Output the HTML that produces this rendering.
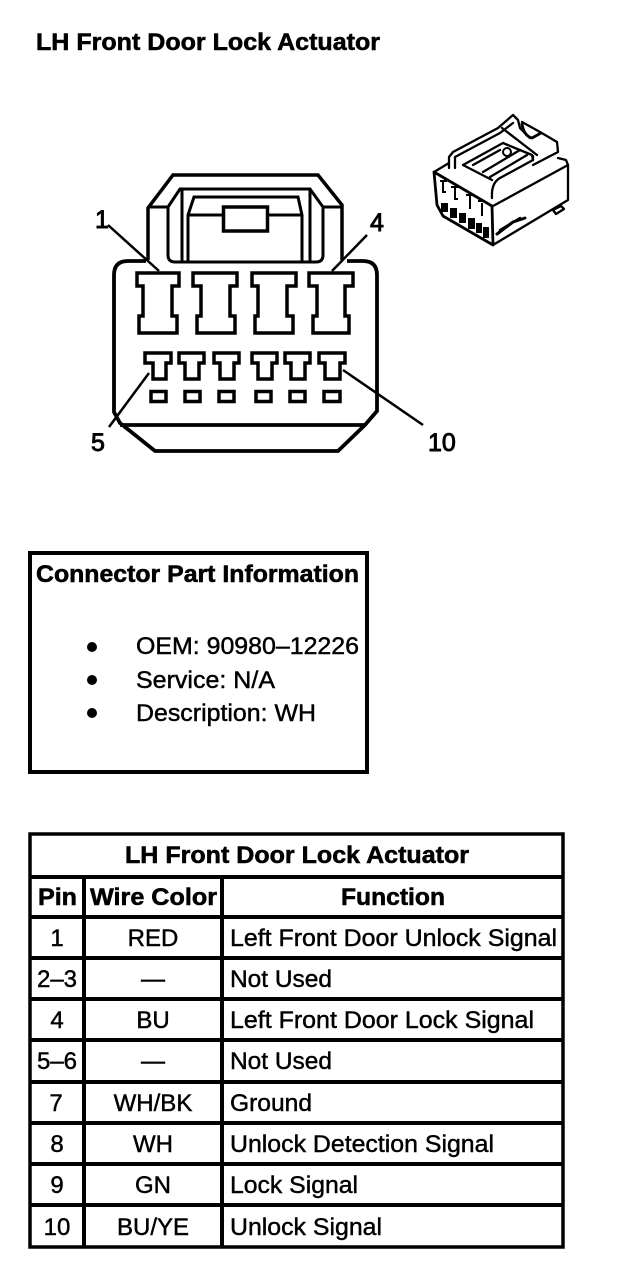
<!DOCTYPE html>
<html><head><meta charset="utf-8"><style>
html,body{margin:0;padding:0;background:#fff;width:624px;height:1278px;overflow:hidden}
svg{display:block}
text{font-family:"Liberation Sans",sans-serif;font-size:24px;fill:#000;stroke:#000;stroke-width:.45px}
.b{font-weight:bold;stroke-width:.55px}
.m{text-anchor:middle}
.l{font-size:25px;stroke-width:.9px}
</style></head><body>
<svg width="624" height="1278" viewBox="0 0 624 1278" xmlns="http://www.w3.org/2000/svg">
<rect width="624" height="1278" fill="#fff"/>
<text class="b" x="36" y="50" textLength="344" lengthAdjust="spacingAndGlyphs">LH Front Door Lock Actuator</text>

<g fill="none" stroke="#000" stroke-width="3.500">
<path d="M148 260V208L173 175H318L342 205V260"/>
<path d="M148 207H168V255Q168 262 175 262H316Q323 262 323 255V207H343" stroke-width="3"/>
<path d="M168 207L180 189H310L323 207" stroke-width="3"/>
<path d="M182 189V262M310 189V262M188 262V215L194 197H298L302 215V262M188 215H223M268 215H302" stroke-width="3"/>
<rect x="223.500" y="207" width="44" height="24"/>
<path d="M146 261H128Q114 261 114 275V412L120 423L155 451H338L365 425L377 411V275Q377 261 363 261H347" stroke-width="3.800"/>
<path d="M120 425H365" stroke-width="3.800"/>
<g stroke-width="3.500">
<path d="M137 273H179V286H172V316H177V333H139V316H143V286H137Z"/>
<path d="M193 273H237V286H230V316H235V333H197V316H201V286H193Z"/>
<path d="M252 273H296V286H287V316H293V333H255V316H258V286H252Z"/>
<path d="M309 273H353V286H345V316H349V333H313V316H317V286H309Z"/>
<path d="M145 353H171V363H166V379H153V363H145Z"/>
<path d="M179 353H204V363H199V379H185V363H179Z"/>
<path d="M214 353H239V363H234V379H220V363H214Z"/>
<path d="M252 353H277V363H272V379H258V363H252Z"/>
<path d="M285 353H310V363H305V379H291V363H285Z"/>
<path d="M319 353H345V363H340V379H325V363H319Z"/>
<rect x="151" y="391.500" width="15" height="10"/>
<rect x="185" y="391.500" width="15" height="10"/>
<rect x="219" y="391.500" width="15" height="10"/>
<rect x="256" y="391.500" width="15" height="10"/>
<rect x="290" y="391.500" width="15" height="10"/>
<rect x="324" y="391.500" width="16" height="10"/>
</g>
<g stroke-width="2.500">
<path d="M108 225L159 271M367 235L332 271M149 373L109 427M343 370L423 425"/>
</g>
</g>
<text class="l" x="95" y="228">1</text>
<text class="l" x="370" y="231">4</text>
<text class="l" x="91" y="451">5</text>
<text class="l" x="428" y="451">10</text>

<!-- small connector -->
<g fill="none" stroke="#000" stroke-width="2.300" stroke-linejoin="round" stroke-linecap="round">
<path d="M434 172L492 206L493 245L443 216L437 205Z" stroke-width="2.800"/>
<path d="M493 206L568 165V200L493 245"/>
<path d="M492 198Q491 183 500 178L533 160L533 156M558 158L566 160L568 165"/>
<path d="M434 172L449 163"/>
<path d="M449 168V157L453 152L498 128L513 115L518 120L520 128L530 138"/>
<path d="M455 168V157L500 133L513 123"/>
<path d="M463 165L492 180M463 165L503 143L532 155L533 160"/>
<path d="M473 165L500 150M483 172L520 150M490 177L527 155"/>
<path d="M502 128L537 155"/>
<path d="M522 122L540 132L557 142L558 152L533 165"/>
<path d="M522 124Q524 136 532 138L541 133" stroke-width="2.800"/>
<path d="M497 234L513 222L525 218" stroke-width="3"/>
<path d="M500 230L520 218"/>
<path d="M553 210L561 206L564 209L556 214Z"/>
</g>
<g fill="none" stroke="#000" stroke-width="2">
<path d="M440 181h7M443 182v10h3"/>
<path d="M451 187h7M455 188v11h3"/>
<path d="M466 195h7M470 196v13"/>
<path d="M478 201h7M482 203v13"/>
</g>
<g fill="#000">
<rect x="441" y="203" width="7" height="9"/>
<rect x="450" y="208" width="7" height="10"/>
<rect x="459" y="213" width="7" height="10"/>
<rect x="468" y="218" width="7" height="11"/>
<rect x="476" y="223" width="6" height="10"/>
<rect x="483" y="227" width="6" height="11"/>
</g>
<circle cx="507" cy="152" r="4" fill="#fff" stroke="#000" stroke-width="2"/>

<!-- info box -->
<rect x="30" y="553" width="337" height="219" fill="none" stroke="#000" stroke-width="4"/>
<text class="b" x="36" y="582" textLength="323" lengthAdjust="spacingAndGlyphs">Connector Part Information</text>
<circle cx="92" cy="647" r="5"/><circle cx="92" cy="680" r="5"/><circle cx="92" cy="713" r="5"/>
<text x="136" y="654" textLength="223" lengthAdjust="spacingAndGlyphs">OEM: 90980–12226</text>
<text x="136" y="688" textLength="139" lengthAdjust="spacingAndGlyphs">Service: N/A</text>
<text x="136" y="721" textLength="180" lengthAdjust="spacingAndGlyphs">Description: WH</text>

<!-- table -->
<g fill="none" stroke="#000">
<rect x="30" y="834" width="533" height="413" stroke-width="3.500"/>
<path d="M30 877H563M30 917H563M30 958H563M30 999H563M30 1040H563M30 1082H563M30 1123H563M30 1164H563M30 1205H563" stroke-width="4"/>
<path d="M84 877V1247M222 877V1247" stroke-width="4"/>
</g>
<text class="b" x="125" y="863" textLength="344" lengthAdjust="spacingAndGlyphs">LH Front Door Lock Actuator</text>
<text class="b" x="38" y="905" textLength="39" lengthAdjust="spacingAndGlyphs">Pin</text>
<text class="b" x="90" y="905" textLength="127" lengthAdjust="spacingAndGlyphs">Wire Color</text>
<text class="b" x="341" y="905" textLength="104" lengthAdjust="spacingAndGlyphs">Function</text>

<text class="m" x="57" y="946">1</text>
<text class="m" x="57" y="987">2–3</text>
<text class="m" x="57" y="1028">4</text>
<text class="m" x="57" y="1069">5–6</text>
<text class="m" x="56" y="1111">7</text>
<text class="m" x="57" y="1152">8</text>
<text class="m" x="57" y="1193">9</text>
<text class="m" x="57" y="1235">10</text>

<text class="m" x="153" y="946">RED</text>
<text class="m" x="153" y="987">—</text>
<text class="m" x="153" y="1028">BU</text>
<text class="m" x="153" y="1069">—</text>
<text class="m" x="153" y="1111">WH/BK</text>
<text class="m" x="153" y="1152">WH</text>
<text class="m" x="153" y="1193">GN</text>
<text class="m" x="153" y="1235">BU/YE</text>

<text x="230" y="946" textLength="327" lengthAdjust="spacingAndGlyphs">Left Front Door Unlock Signal</text>
<text x="230" y="987" textLength="102" lengthAdjust="spacingAndGlyphs">Not Used</text>
<text x="230" y="1028" textLength="304" lengthAdjust="spacingAndGlyphs">Left Front Door Lock Signal</text>
<text x="230" y="1069" textLength="102" lengthAdjust="spacingAndGlyphs">Not Used</text>
<text x="230" y="1111" textLength="82" lengthAdjust="spacingAndGlyphs">Ground</text>
<text x="230" y="1152" textLength="264" lengthAdjust="spacingAndGlyphs">Unlock Detection Signal</text>
<text x="230" y="1193" textLength="128" lengthAdjust="spacingAndGlyphs">Lock Signal</text>
<text x="230" y="1235" textLength="152" lengthAdjust="spacingAndGlyphs">Unlock Signal</text>
</svg>
</body></html>
